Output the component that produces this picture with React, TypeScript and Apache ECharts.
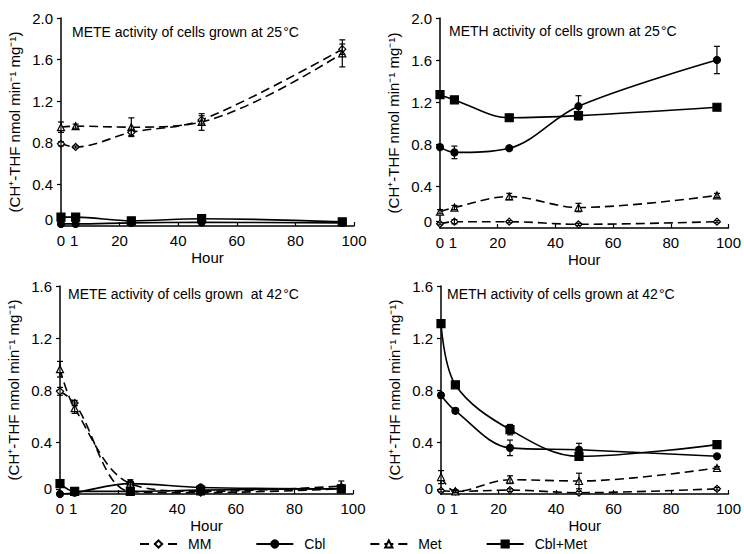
import React, { useEffect, useRef } from "react";
import * as echarts from "echarts";

// ---- data ----
const seriesNames = ["MM", "Cbl", "Met", "Cbl+Met"];
// sampling times (h) and where they sit on the drawn hour axis
const hours = [0, 1, 24, 48, 96];
const hourPos = [0, 5, 24, 48, 96];
const xTickValues = [20, 40, 60, 80, 100];

// METE activity, 25 °C
const mete25MM = [0.79, 0.76, 0.9, 1.02, 1.7];
const mete25Cbl = [0.02, 0.02, 0.03, 0.035, 0.03];
const mete25Met = [0.95, 0.96, 0.95, 1.0, 1.66];
const mete25CblMet = [0.085, 0.085, 0.05, 0.07, 0.04];
const mete25MMErr = [0.02, 0.01, 0.03, 0.04, 0.05];
const mete25CblErr = [0, 0, 0.02, 0.03, 0.01];
const mete25MetErr = [0.05, 0.02, 0.09, 0.08, 0.13];
const mete25CblMetErr = [0.01, 0.01, 0.02, 0.02, 0.01];

// METH activity, 25 °C
const meth25MM = [0.04, 0.06, 0.06, 0.035, 0.06];
const meth25Cbl = [0.77, 0.72, 0.76, 1.16, 1.6];
const meth25Met = [0.155, 0.195, 0.3, 0.195, 0.31];
const meth25CblMet = [1.27, 1.22, 1.05, 1.07, 1.15];
const meth25MMErr = [0.01, 0.02, 0.01, 0.01, 0.01];
const meth25CblErr = [0.02, 0.06, 0.02, 0.1, 0.13];
const meth25MetErr = [0.02, 0.02, 0.03, 0.04, 0.02];
const meth25CblMetErr = [0.02, 0.02, 0.03, 0.04, 0.01];

// METE activity, 42 °C
const mete42MM = [0.79, 0.7, 0.02, 0.01, 0.04];
const mete42Cbl = [0.0, 0.01, 0.08, 0.05, 0.04];
const mete42Met = [0.96, 0.66, 0.08, 0.02, 0.06];
const mete42CblMet = [0.08, 0.02, 0.02, 0.03, 0.04];
const mete42MMErr = [0.03, 0.02, 0.01, 0.01, 0.02];
const mete42CblErr = [0, 0.01, 0.01, 0.01, 0.01];
const mete42MetErr = [0.06, 0.04, 0.03, 0.01, 0.04];
const mete42CblMetErr = [0.01, 0.02, 0.02, 0.01, 0.03];

// METH activity, 42 °C
const meth42MM = [0.025, 0.02, 0.03, 0.01, 0.04];
const meth42Cbl = [0.76, 0.64, 0.355, 0.34, 0.29];
const meth42Met = [0.13, 0.02, 0.11, 0.1, 0.2];
const meth42CblMet = [1.31, 0.84, 0.495, 0.29, 0.38];
const meth42MMErr = [0.01, 0.01, 0.01, 0.01, 0.01];
const meth42CblErr = [0.02, 0.02, 0.06, 0.05, 0.01];
const meth42MetErr = [0.05, 0.01, 0.03, 0.06, 0.01];
const meth42CblMetErr = [0.02, 0.01, 0.04, 0.03, 0.02];

const panelTitles = [
  "METE activity of cells grown at 25\u200A°C",
  "METH activity of cells grown at 25\u200A°C",
  "METE activity of cells grown  at 42\u200A°C",
  "METH activity of cells grown at 42\u200A°C",
];
const yTicksTop = [0.06, 0.4, 0.8, 1.2, 1.6, 2.0];
const yTicksBottom = [0.04, 0.4, 0.8, 1.2, 1.6];
const yAxisTitle = "(CH\u207A-THF nmol min\u207B\u00B9 mg\u207B\u00B9)";
const xAxisTitle = "Hour";

const FONT = "'Liberation Sans', Arial, Helvetica, sans-serif";

const panels = [
  { vals: [mete25MM, mete25Cbl, mete25Met, mete25CblMet], errs: [mete25MMErr, mete25CblErr, mete25MetErr, mete25CblMetErr] },
  { vals: [meth25MM, meth25Cbl, meth25Met, meth25CblMet], errs: [meth25MMErr, meth25CblErr, meth25MetErr, meth25CblMetErr] },
  { vals: [mete42MM, mete42Cbl, mete42Met, mete42CblMet], errs: [mete42MMErr, mete42CblErr, mete42MetErr, mete42CblMetErr] },
  { vals: [meth42MM, meth42Cbl, meth42Met, meth42CblMet], errs: [meth42MMErr, meth42CblErr, meth42MetErr, meth42CblMetErr] },
];

// layout (pixels)
const grids = [
  { left: 61, top: 18, width: 293, height: 208 },
  { left: 440, top: 18, width: 293, height: 210 },
  { left: 60, top: 286, width: 293, height: 208 },
  { left: 441, top: 286, width: 293, height: 208 },
];
const titlePos = [
  [72, 25],
  [449, 24],
  [68, 287],
  [447, 287],
];

const symbols = ["diamond", "circle", "triangle", "rect"];
const symbolSizes = [7, 7, 7, 8];
const filled = [false, true, false, true];
const dashed = [true, false, true, false];

function buildOption() {
  const xAxis: any[] = [];
  const yAxis: any[] = [];
  const series: any[] = [];
  grids.forEach((g, p) => {
    const top = p < 2;
    xAxis.push({
      gridIndex: p,
      type: "value",
      min: 0,
      max: 100,
      name: xAxisTitle,
      nameLocation: "middle",
      nameGap: 24,
      nameTextStyle: { fontFamily: FONT, fontSize: 15, color: "#000" },
      axisLine: { show: true, lineStyle: { color: "#000", width: 1.5 } },
      axisTick: { show: true, inside: true, length: 4, customValues: xTickValues, lineStyle: { color: "#000", width: 1.2 } },
      axisLabel: {
        fontFamily: FONT,
        fontSize: 15,
        color: "#000",
        margin: 7,
        customValues: [hourPos[0], hourPos[1] - 0.5, ...xTickValues],
        formatter: (v: number) => (v === 0 ? String(hours[0]) : v < 10 ? String(hours[1]) : String(v)),
      },
      splitLine: { show: false },
    });
    const ticks = top ? yTicksTop : yTicksBottom;
    yAxis.push({
      gridIndex: p,
      type: "value",
      min: 0,
      max: top ? 2.0 : 1.6,
      name: yAxisTitle,
      nameLocation: "middle",
      nameRotate: 90,
      nameGap: 39,
      nameTextStyle: { fontFamily: FONT, fontSize: 15, color: "#000" },
      axisLine: { show: true, lineStyle: { color: "#000", width: 1.5 } },
      axisTick: { show: true, inside: false, length: 4, customValues: ticks, lineStyle: { color: "#000", width: 1.2 } },
      axisLabel: {
        fontFamily: FONT,
        fontSize: 15,
        color: "#000",
        margin: 8,
        customValues: ticks,
        formatter: (v: number) => (v < 0.2 ? "0" : v.toFixed(1)),
      },
      splitLine: { show: false },
    });

    const panel = panels[p];
    const errData: any[] = [];
    panel.vals.forEach((vals, s) => {
      series.push({
        type: "line",
        name: seriesNames[s],
        xAxisIndex: p,
        yAxisIndex: p,
        data: hourPos.map((h, i) => [h, vals[i]]),
        smooth: 0.35,
        symbol: symbols[s],
        symbolSize: symbolSizes[s],
        showSymbol: true,
        z: 3,
        itemStyle: { color: filled[s] ? "#000" : "#fff", borderColor: "#000", borderWidth: 1.2 },
        lineStyle: { color: "#000", width: 1.6, type: dashed[s] ? [9, 5] : "solid" },
      });
      panel.errs[s].forEach((e, i) => {
        if (e > 0) errData.push([hourPos[i], vals[i] - e, vals[i] + e]);
      });
    });
    series.push({
      type: "custom",
      name: "err" + p,
      xAxisIndex: p,
      yAxisIndex: p,
      z: 4,
      clip: false,
      data: errData,
      encode: { x: 0, y: [1, 2] },
      renderItem: (_params: any, api: any) => {
        const x = api.value(0);
        const p1 = api.coord([x, api.value(1)]);
        const p2 = api.coord([x, api.value(2)]);
        const w = 3;
        const st = { stroke: "#000", lineWidth: 1.2 };
        return {
          type: "group",
          children: [
            { type: "line", shape: { x1: p1[0], y1: p1[1], x2: p2[0], y2: p2[1] }, style: st },
            { type: "line", shape: { x1: p1[0] - w, y1: p1[1], x2: p1[0] + w, y2: p1[1] }, style: st },
            { type: "line", shape: { x1: p2[0] - w, y1: p2[1], x2: p2[0] + w, y2: p2[1] }, style: st },
          ],
        };
      },
    });
  });

  return {
    animation: false,
    backgroundColor: "#fff",
    grid: grids.map((g) => ({ ...g, containLabel: false })),
    xAxis,
    yAxis,
    series,
    legend: {
      data: seriesNames,
      left: 134,
      top: 532,
      itemWidth: 37,
      itemHeight: 9,
      itemGap: 44,
      textStyle: { fontFamily: FONT, fontSize: 14, color: "#000", padding: [0, 0, 0, 6] },
    },
    graphic: panelTitles.map((t, i) => ({
      type: "text",
      x: titlePos[i][0],
      y: titlePos[i][1],
      style: { text: t, fontFamily: FONT, fontSize: 14, fill: "#000" },
    })),
  };
}

export default function App() {
  const ref = useRef<HTMLDivElement>(null);
  useEffect(() => {
    if (!ref.current) return;
    const chart = echarts.init(ref.current, null, { renderer: "svg" });
    chart.setOption(buildOption() as any);
    return () => chart.dispose();
  }, []);
  return <div ref={ref} style={{ position: "fixed", left: 0, top: 0, width: 744, height: 554 }} />;
}
